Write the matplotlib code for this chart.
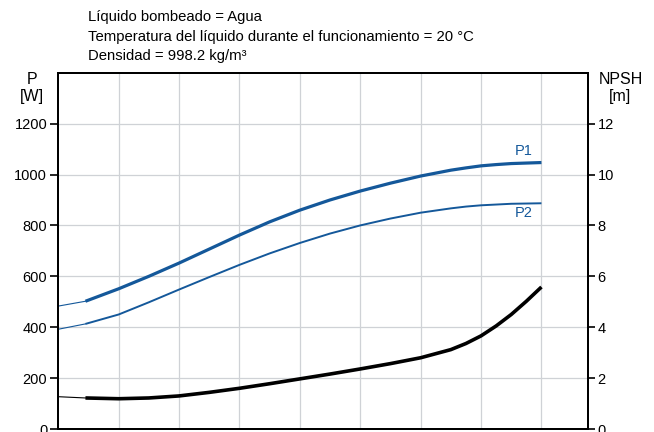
import matplotlib.pyplot as plt

plt.rcParams["font.family"] = ["Liberation Sans", "DejaVu Sans"]

# caudal en unidades de rejilla (sin etiquetas en el eje x)
q = [0, 0.45, 1, 1.5, 2, 2.5, 3, 3.5, 4, 4.5, 5, 5.5, 6, 6.5, 6.75, 7, 7.25, 7.5, 7.75, 8]
p1 = [483, 502, 551, 600, 652, 707, 762, 814, 860, 900, 935, 966, 994, 1017, 1026, 1034, 1039, 1043, 1045, 1047]
p2 = [392, 413, 450, 498, 548, 597, 645, 690, 731, 768, 800, 827, 850, 867, 874, 879, 882, 885, 886, 887]
npsh = [1.27, 1.22, 1.19, 1.22, 1.30, 1.44, 1.60, 1.78, 1.97, 2.16, 2.36, 2.57, 2.80, 3.12, 3.36, 3.66, 4.05, 4.50, 5.02, 5.58]
q_min = 0.45  # inicio del rango de funcionamiento

info_lines = [
    "Líquido bombeado = Agua",
    "Temperatura del líquido durante el funcionamiento = 20 °C",
    "Densidad = 998.2 kg/m³",
]

blue = "#14589a"
grid_col = "#cfd2d6"

fig = plt.figure(figsize=(6.54, 4.32), dpi=100)
ax = fig.add_axes([0.0891, 0.0069, 0.8099, 0.8248])
ax2 = ax.twinx()

i0 = q.index(q_min)

# tramo fino fuera del rango + tramo grueso
ax.plot(q[: i0 + 1], p1[: i0 + 1], color=blue, lw=0.8)
ax.plot(q[i0:], p1[i0:], color=blue, lw=2.3, solid_capstyle="butt")
ax.plot(q[: i0 + 1], p2[: i0 + 1], color=blue, lw=0.8)
ax.plot(q[i0:], p2[i0:], color=blue, lw=1.4, solid_capstyle="butt")
ax2.plot(q[: i0 + 1], npsh[: i0 + 1], color="black", lw=0.8)
ax2.plot(q[i0:], npsh[i0:], color="black", lw=2.6, solid_capstyle="butt")

ax.text(7.86, 1093, "P1", color=blue, ha="right", va="center", fontsize=10.5)
ax.text(7.86, 847, "P2", color=blue, ha="right", va="center", fontsize=10.5)

ax.set_xlim(0, 8.77)
ax.set_ylim(0, 1400)
ax2.set_ylim(0, 14)
ax.set_xticks(range(1, 9))
ax.set_yticks(range(0, 1201, 200))
ax2.set_yticks(range(0, 13, 2))
ax.set_yticks([1400], minor=True)
ax.tick_params(axis="x", length=0, labelbottom=False)
ax.tick_params(axis="y", direction="out", length=6, width=1.2, pad=2, labelsize=10.5)
ax2.tick_params(axis="y", direction="out", length=5, width=1.2, pad=2, labelsize=10.5)
ax.tick_params(axis="y", which="minor", length=0)

ax.grid(True, color=grid_col, lw=0.9)
ax.set_axisbelow(True)
for a in (ax, ax2):
    for s in a.spines.values():
        s.set_linewidth(1.4)
        s.set_color("black")

fig.text(31.7 / 654, 1 - 80 / 432, "P", ha="center", va="center", fontsize=11.5)
fig.text(31.7 / 654, 1 - 97 / 432, "[W]", ha="center", va="center", fontsize=11.5)
fig.text(621 / 654, 1 - 80 / 432, "NPSH", ha="center", va="center", fontsize=11.5)
fig.text(620 / 654, 1 - 97 / 432, "[m]", ha="center", va="center", fontsize=11.5)

for k, line in enumerate(info_lines):
    fig.text(88 / 654, 1 - (17 + 19.5 * k) / 432, line, ha="left", va="center", fontsize=10.7)

fig.savefig("out.png", dpi=100)
